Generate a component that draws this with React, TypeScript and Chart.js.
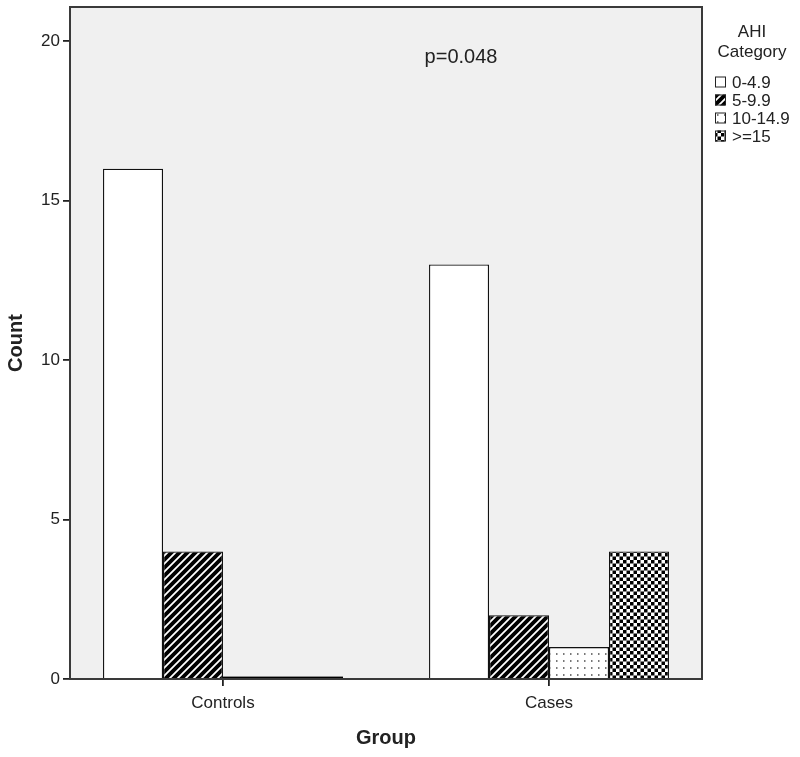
import React, { useEffect, useRef } from 'react';
import { Chart, registerables } from 'chart.js';

Chart.register(...registerables);

// ---- data ----
const groupLabels = ['Controls', 'Cases'];
const groupPositions = [0, 1];
const seriesLabels = ['0-4.9', '5-9.9', '10-14.9', '>=15'];
const ahi0to4 = [16, 13];
const ahi5to9 = [4, 2];
const ahi10to14 = [0, 1];
const ahi15plus = [0, 4];
const yTicks = [0, 5, 10, 15, 20];
const legendTitle = ['AHI', 'Category'];
const pValueText = 'p=0.048';
const yTitle = 'Count';
const xTitle = 'Group';

const FONT = '"Liberation Sans", Arial, sans-serif';
const TEXT = '#222';

function makePattern(ctx: CanvasRenderingContext2D, size: number, draw: (g: CanvasRenderingContext2D) => void) {
  const c = document.createElement('canvas');
  c.width = size;
  c.height = size;
  const g = c.getContext('2d') as CanvasRenderingContext2D;
  draw(g);
  return ctx.createPattern(c, 'repeat') as CanvasPattern;
}

export default function App() {
  const canvasRef = useRef<HTMLCanvasElement | null>(null);

  useEffect(() => {
    document.body.style.margin = '0';
    const canvas = canvasRef.current;
    if (!canvas) return;
    const ctx = canvas.getContext('2d') as CanvasRenderingContext2D;

    const hatch = makePattern(ctx, 8, (g) => {
      g.fillStyle = '#000';
      g.fillRect(0, 0, 8, 8);
      g.strokeStyle = '#fff';
      g.lineWidth = 1.8;
      g.beginPath();
      g.moveTo(-1, 9); g.lineTo(9, -1);
      g.moveTo(-2, 2); g.lineTo(2, -2);
      g.moveTo(6, 10); g.lineTo(10, 6);
      g.stroke();
    });
    const dots = makePattern(ctx, 7, (g) => {
      g.fillStyle = '#fff';
      g.fillRect(0, 0, 7, 7);
      g.fillStyle = '#777';
      g.fillRect(3, 2, 1.5, 2);
    });
    const checker = makePattern(ctx, 7, (g) => {
      g.fillStyle = '#fff';
      g.fillRect(0, 0, 7, 7);
      g.fillStyle = '#000';
      g.fillRect(0, 0, 3.5, 3.5);
      g.fillRect(3.5, 3.5, 3.5, 3.5);
    });

    const fills = ['#ffffff', hatch, dots, checker];
    const series = [ahi0to4, ahi5to9, ahi10to14, ahi15plus];

    const framePlugin = {
      id: 'frame',
      beforeDatasetsDraw(chart: any) {
        const { ctx: c, chartArea: a } = chart;
        c.save();
        c.fillStyle = '#f0f0f0';
        c.fillRect(a.left, a.top, a.right - a.left, a.bottom - a.top);
        c.restore();
      },
      afterDatasetsDraw(chart: any) {
        const { ctx: c, chartArea: a } = chart;
        c.save();
        // zero-height bars appear as a thick black line on the baseline
        chart.data.datasets.forEach((ds: any, di: number) => {
          const meta = chart.getDatasetMeta(di);
          meta.data.forEach((el: any, j: number) => {
            if (ds.data[j].y === 0) {
              c.fillStyle = '#000';
              c.fillRect(el.x - el.width / 2, el.base - 1.5, el.width, 3);
            }
          });
        });
        c.strokeStyle = '#3a3a3a';
        c.lineWidth = 2;
        c.strokeRect(a.left, a.top, a.right - a.left, a.bottom - a.top);
        // p-value annotation
        c.fillStyle = TEXT;
        c.font = `20px ${FONT}`;
        c.textAlign = 'center';
        c.textBaseline = 'middle';
        c.fillText(pValueText, a.left + 391, a.top + 50);
        c.restore();
      },
    };

    const legendPlugin = {
      id: 'customLegend',
      afterDraw(chart: any) {
        const c = chart.ctx as CanvasRenderingContext2D;
        const a = chart.chartArea;
        c.save();
        c.fillStyle = TEXT;
        c.font = `17px ${FONT}`;
        c.textAlign = 'center';
        c.textBaseline = 'middle';
        legendTitle.forEach((t, i) => c.fillText(t, a.right + 50, 32 + i * 20));
        chart.data.datasets.forEach((ds: any, i: number) => {
          const y = 82 + i * 18;
          const bx = a.right + 13;
          c.fillStyle = ds.backgroundColor;
          c.fillRect(bx, y - 5.5, 11, 11);
          c.strokeStyle = '#222';
          c.lineWidth = 1;
          c.strokeRect(bx + 0.5, y - 5, 10, 10);
          c.fillStyle = TEXT;
          c.textAlign = 'left';
          c.fillText(ds.label, a.right + 30, y + 1);
        });
        c.restore();
      },
    };

    const chart = new Chart(canvas, {
      type: 'bar',
      data: {
        datasets: series.map((vals, i) => ({
          label: seriesLabels[i],
          data: vals.map((v, j) => ({ x: groupPositions[j], y: v })),
          backgroundColor: fills[i] as any,
          borderColor: '#111',
          borderWidth: 1.3,
          minBarLength: 2,
          categoryPercentage: 0.736,
          barPercentage: 1,
        })),
      },
      options: {
        animation: false,
        responsive: false,
        layout: { padding: { top: 7, right: 98, left: 0, bottom: 0 } },
        plugins: {
          legend: { display: false },
          tooltip: { enabled: false },
          title: { display: false },
        },
        scales: {
          x: {
            type: 'linear',
            offset: false,
            min: -0.4693,
            max: 1.4693,
            afterBuildTicks(scale: any) {
              scale.ticks = groupPositions.map((v) => ({ value: v }));
            },
            afterFit(scale: any) {
              scale.height = 78;
              scale.paddingLeft = 0;
              scale.paddingRight = 0;
            },
            border: { display: false },
            grid: { display: true, offset: false, drawOnChartArea: false, drawTicks: true, tickLength: 7, color: '#222', lineWidth: 1.8 },
            ticks: {
              padding: 7,
              color: TEXT,
              font: { family: FONT, size: 17 },
              maxRotation: 0,
              callback: (v: any) => {
                const idx = groupPositions.indexOf(Number(v));
                return idx >= 0 ? groupLabels[idx] : '';
              },
            },
            title: {
              display: true,
              text: xTitle,
              color: TEXT,
              font: { family: FONT, size: 20, weight: 'bold' },
              padding: { top: 4, bottom: 7 },
            },
          },
          y: {
            type: 'linear',
            min: 0,
            max: 21.07,
            afterBuildTicks(scale: any) {
              scale.ticks = yTicks.map((v) => ({ value: v }));
            },
            afterFit(scale: any) {
              scale.width = 70;
              scale.paddingTop = 0;
              scale.paddingBottom = 0;
            },
            border: { display: false },
            grid: { display: true, drawOnChartArea: false, drawTicks: true, tickLength: 7, color: '#222', lineWidth: 1.8 },
            ticks: {
              padding: 3,
              color: TEXT,
              font: { family: FONT, size: 17 },
            },
            title: {
              display: true,
              text: yTitle,
              color: TEXT,
              font: { family: FONT, size: 20, weight: 'bold' },
              padding: { top: 4, bottom: 4 },
            },
          },
        },
      },
      plugins: [framePlugin, legendPlugin],
    } as any);

    return () => chart.destroy();
  }, []);

  return (
    <div style={{ width: 800, height: 757, position: 'relative' }}>
      <canvas ref={canvasRef} width={800} height={757} style={{ display: 'block' }} />
    </div>
  );
}
